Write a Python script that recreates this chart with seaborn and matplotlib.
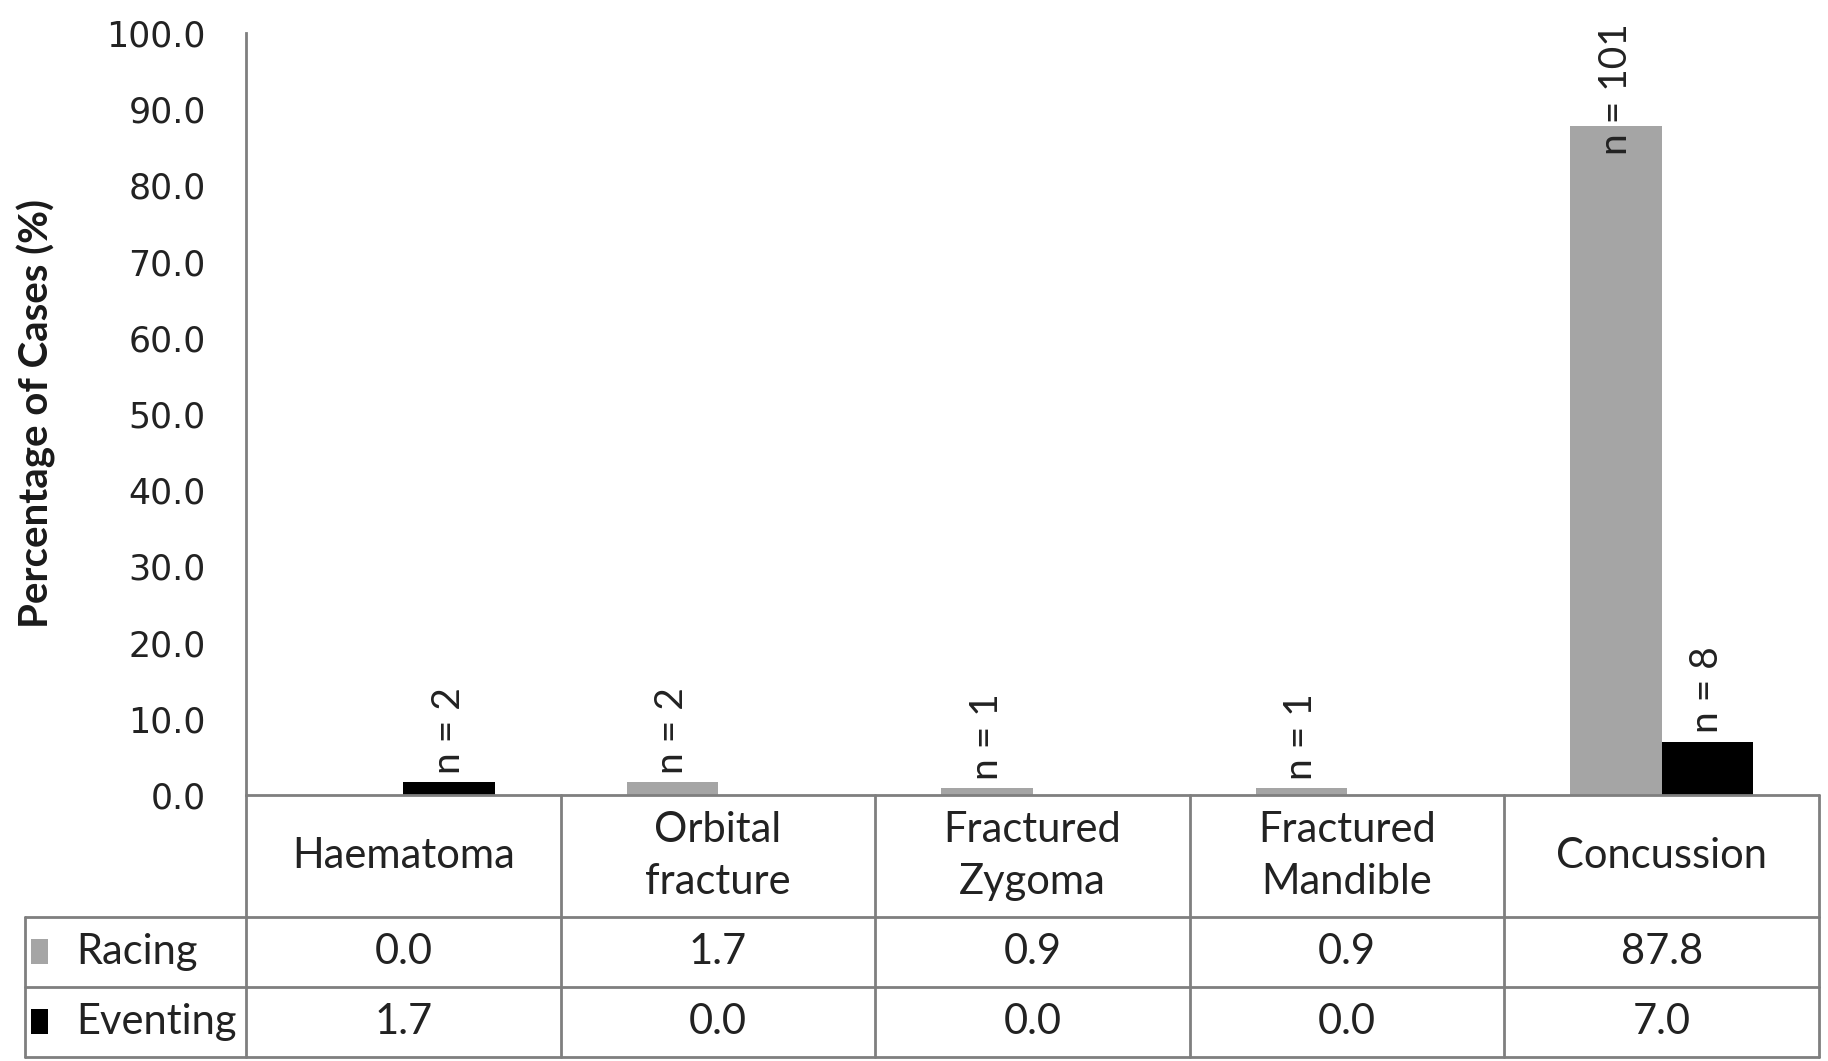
import matplotlib
matplotlib.use("Agg")
import matplotlib.pyplot as plt
import seaborn as sns
import pandas as pd
from matplotlib.patches import Rectangle

sns.set_theme(style="white")

# ── Data ──
categories = ["Haematoma", "Orbital\nfracture", "Fractured\nZygoma",
              "Fractured\nMandible", "Concussion"]
racing_pct = [0.0, 1.7, 0.9, 0.9, 87.8]
eventing_pct = [1.7, 0.0, 0.0, 0.0, 7.0]
racing_n = [0, 2, 1, 1, 101]
eventing_n = [2, 0, 0, 0, 8]
series = ["Racing", "Eventing"]
colors = {"Racing": "#a5a5a5", "Eventing": "#000000"}
yticks = [0, 10, 20, 30, 40, 50, 60, 70, 80, 90, 100]

df = pd.DataFrame({
    "category": categories * 2,
    "series": ["Racing"] * 5 + ["Eventing"] * 5,
    "pct": racing_pct + eventing_pct,
    "n": racing_n + eventing_n,
})

W, H = 1828, 1061
fig = plt.figure(figsize=(W / 100, H / 100), dpi=100)

TEXT_FONT = ["Lato", "DejaVu Sans"]
GRID = "#7f7f7f"
TXT = "#222222"

# main bar axes: x 246..1819 px, y 33..795 px
ax = fig.add_axes([246 / W, 1 - 795 / H, (1819 - 246) / W, (795 - 33) / H])
sns.barplot(data=df, x="category", y="pct", hue="series", hue_order=series,
            palette=colors, width=0.58, saturation=1, linewidth=0,
            legend=False, ax=ax)
ax.set_xlim(-0.5, 4.5)
ax.set_ylim(0, 100)
ax.set_yticks(yticks)
ax.set_yticklabels([f"{v:.1f}" for v in yticks], fontsize=25, color=TXT)
ax.tick_params(axis="y", length=0, pad=29)
ax.set_xticks([])
ax.set_xlabel("")
ax.set_ylabel("Percentage of Cases (%)", fontsize=29, fontweight="bold",
              family=TEXT_FONT, color="#1a1a1a")
ax.yaxis.set_label_coords(-0.121, 0.5)
for s in ["top", "right", "bottom"]:
    ax.spines[s].set_visible(False)
ax.spines["left"].set_color(GRID)
ax.spines["left"].set_linewidth(2)

# n labels above bars
for container, counts in zip(ax.containers, [racing_n, eventing_n]):
    for bar, n in zip(container, counts):
        if n == 0:
            continue
        xc = bar.get_x() + bar.get_width() / 2
        top = bar.get_height()
        if top > 80:
            ax.text(xc, top - 3.8, f"n = {n}", rotation=90, ha="center",
                    va="bottom", fontsize=28, family=TEXT_FONT, color=TXT,
                    clip_on=False)
        else:
            ax.annotate(f"n = {n}", (xc, top), xytext=(0, 6),
                        textcoords="offset points", rotation=90, ha="center",
                        va="bottom", fontsize=28, family=TEXT_FONT, color=TXT)

# data table below: x 25..1819 px, y 795..1057 px
left_px = 25
tax = fig.add_axes([left_px / W, 1 - 1057 / H, (1819 - left_px) / W, (1057 - 795) / H])
col_w = (1819 - 246) / 5
x0 = -0.5 - (246 - left_px) / col_w
tax.set_xlim(x0, 4.5)
tax.set_ylim(0, 3.75)
tax.axis("off")

lw = 2
tax.plot([-0.5, 4.5], [3.75, 3.75], color=GRID, lw=lw, clip_on=False)
for yy in [2, 1, 0]:
    tax.plot([x0, 4.5], [yy, yy], color=GRID, lw=lw, clip_on=False)
for i in range(6):
    xx = i - 0.5
    tax.plot([xx, xx], [0, 3.75], color=GRID, lw=lw, clip_on=False)
tax.plot([x0, x0], [0, 2], color=GRID, lw=lw, clip_on=False)

for i, cat in enumerate(categories):
    tax.text(i, 2.875, cat, ha="center", va="center", fontsize=30,
             family=TEXT_FONT, color=TXT, linespacing=1.45)
    tax.text(i, 1.5, f"{racing_pct[i]:.1f}", ha="center", va="center",
             fontsize=30, family=TEXT_FONT, color=TXT)
    tax.text(i, 0.5, f"{eventing_pct[i]:.1f}", ha="center", va="center",
             fontsize=30, family=TEXT_FONT, color=TXT)

for yy, name in zip([1.5, 0.5], series):
    tax.add_patch(Rectangle((x0 + 0.02, yy - 0.17), 0.052, 0.36,
                            facecolor=colors[name], edgecolor="none",
                            clip_on=False))
    tax.text(x0 + 0.163, yy, name, ha="left", va="center", fontsize=30,
             family=TEXT_FONT, color=TXT)

fig.savefig("out.png", dpi=100, facecolor="white")
